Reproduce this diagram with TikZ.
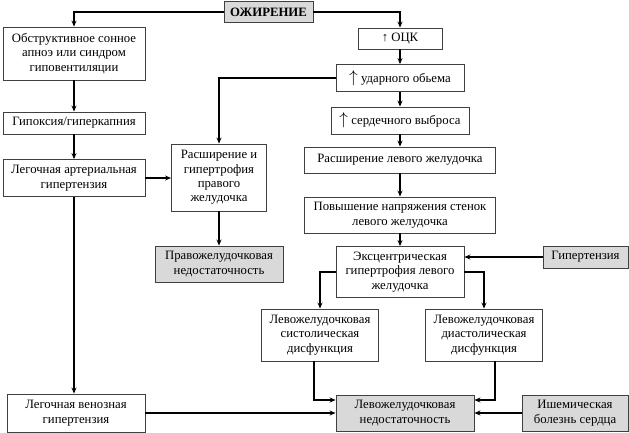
\documentclass[tikz,border=0pt]{standalone}
\usepackage{fontspec}
\setmainfont{Liberation Serif}
\usepackage{amsmath,amssymb}
\usepackage{tikz}
\usetikzlibrary{arrows.meta}

\tikzset{
  box/.style={draw=black!75,line width=0.9pt,fill=white,align=center,inner sep=1pt,
    font=\fontsize{12.8}{14.5}\selectfont},
  graybox/.style={box,fill=black!15},
  link/.style={line width=2bp,-{Stealth[length=6pt,width=5pt]}}
}
\newcommand{\bigup}{{\fontsize{18}{18}\selectfont$\uparrow$}}

\begin{document}
\begin{tikzpicture}[x=1bp,y=-1bp]
  \useasboundingbox[fill=white] (0,0) rectangle (629,432);
  %top
  \node[graybox,at={(268.5,12)},minimum width=89bp,minimum height=21bp,font=\fontsize{12.8}{14.5}\selectfont\bfseries] (obes) {ОЖИРЕНИЕ};

  %left
  \node[box,at={(74,53.5)},minimum width=142bp,minimum height=53bp] (apnea) {Обструктивное сонное\\апноэ или синдром\\гиповентиляции};
  \node[box,at={(74,123)},minimum width=142bp,minimum height=22bp] (hypox) {Гипоксия/гиперкапния};
  \node[box,at={(74,178)},minimum width=142bp,minimum height=37bp] (pah) {Легочная артериальная\\гипертензия};
  \node[box,at={(76,413)},minimum width=138bp,minimum height=38bp] (pvh) {Легочная венозная\\гипертензия};

  %middle
  \node[box,at={(219,177.5)},minimum width=95bp,minimum height=67bp] (rvh) {Расширение и\\гипертрофия\\правого\\желудочка};
  \node[graybox,at={(219,264)},minimum width=128bp,minimum height=36bp] (rvf) {Правожелудочковая\\недостаточность};

  %right
  \node[box,at={(400,38.5)},minimum width=84bp,minimum height=21bp] (bcv) {↑ ОЦК};
  \node[box,at={(400,78)},minimum width=128bp,minimum height=27bp] (sv) {\bigup\ ударного обьема};
  \node[box,at={(400,120.5)},minimum width=138bp,minimum height=27bp] (co) {\bigup\ сердечного выброса};
  \node[box,at={(400,160)},minimum width=191bp,minimum height=26bp] (lvd) {Расширение левого желудочка};
  \node[box,at={(400,215)},minimum width=191bp,minimum height=36bp] (wall) {Повышение напряжения стенок\\левого желудочка};
  \node[box,at={(400,272)},minimum width=128bp,minimum height=51bp] (ecc) {Эксцентрическая\\гипертрофия левого\\желудочка};
  \node[graybox,at={(585.5,257)},minimum width=85bp,minimum height=22bp] (htn) {Гипертензия};
  \node[box,at={(320,335)},minimum width=117bp,minimum height=52bp] (sys) {Левожелудочковая\\систолическая\\дисфункция};
  \node[box,at={(484,335)},minimum width=117bp,minimum height=52bp] (dia) {Левожелудочковая\\диастолическая\\дисфункция};
  \node[graybox,at={(405,413)},minimum width=138bp,minimum height=36bp] (lvf) {Левожелудочковая\\недостаточность};
  \node[graybox,at={(575,413)},minimum width=106bp,minimum height=36bp] (ihd) {Ишемическая\\болезнь сердца};

  %links
  \draw[link] (obes.west) -| (apnea.north);
  \draw[link] (obes.east) -| (bcv.north);
  \draw[link] (apnea) -- (hypox);
  \draw[link] (hypox) -- (pah);
  \draw[link] (pah.south) -- (pah.south |- pvh.north);
  \draw[link] (pah.east) -- (pah.east -| rvh.west);
  \draw[link] (sv.west) -| (rvh.north);
  \draw[link] (rvh) -- (rvf);
  \draw[link] (bcv) -- (sv);
  \draw[link] (sv) -- (co);
  \draw[link] (co) -- (lvd);
  \draw[link] (lvd) -- (wall);
  \draw[link] (wall) -- (ecc);
  \draw[link] (htn.west) -- (htn.west -| ecc.east);
  \draw[link] (ecc.west) -| (sys.north);
  \draw[link] (ecc.east) -| (dia.north);
  \draw[link] ([xshift=-6bp]sys.south) |- ([yshift=13bp]lvf.west);
  \draw[link] ([xshift=11bp]dia.south) |- ([yshift=13bp]lvf.east);
  \draw[link] (pvh.east) -- (lvf.west);
  \draw[link] (ihd.west) -- (lvf.east);
\end{tikzpicture}
\end{document}
